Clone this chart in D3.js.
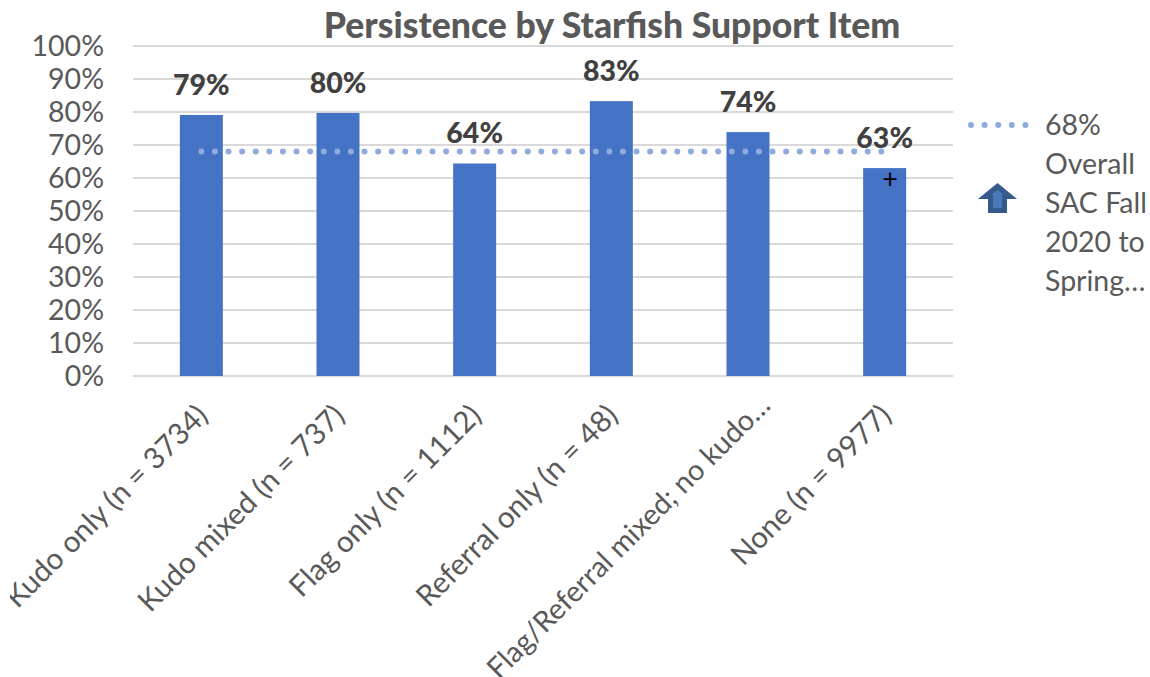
<!DOCTYPE html>
<html><head><meta charset="utf-8">
<script src="https://cdn.jsdelivr.net/npm/d3@7"></script>
<style>html,body{margin:0;padding:0;background:#fff}svg{display:block}text{font-family:Lato,"Open Sans",sans-serif}</style>
</head><body><div id="chart"></div>
<script>
const categories = ["Kudo only (n = 3734)","Kudo mixed (n = 737)","Flag only (n = 1112)","Referral only (n = 48)","Flag/Referral mixed; no kudo…","None (n = 9977)"];
const persistence = [79.1,79.7,64.4,83.3,73.9,63];
const overall = [68,68,68,68,68,68];
const yTicks = [0,10,20,30,40,50,60,70,80,90,100];
const legendLines = ["68%","Overall","SAC Fall","2020 to","Spring…"];
const titleText = "Persistence by Starfish Support Item";

const W=1150,H=677;
const svg=d3.select("#chart").append("svg").attr("width",W).attr("height",H);
svg.append("defs").append("clipPath").attr("id","pageclip").append("rect").attr("x",10).attr("y",0).attr("width",W-10).attr("height",H);
const x=d3.scaleBand().domain(categories).range([133,953]);
const y=d3.scaleLinear().domain([0,100]).range([376,46]);
const barW=43;

// gridlines
svg.append("g").selectAll("line").data(yTicks).join("line")
  .attr("x1",133).attr("x2",953).attr("y1",d=>y(d)).attr("y2",d=>y(d))
  .attr("stroke","#d9d9d9").attr("stroke-width",2);

// y axis
const yAxis=d3.axisLeft(y).tickValues(yTicks).tickFormat(d=>d+"%").tickSize(0).tickPadding(29);
const gy=svg.append("g").attr("transform","translate(133,0)").call(yAxis);
gy.select(".domain").remove();
gy.selectAll("text").attr("font-size",28.5).attr("fill","#595959").style("font-family",'Lato,"Open Sans",sans-serif');

// bars
svg.append("g").selectAll("rect").data(categories).join("rect")
  .attr("x",d=>x(d)+x.bandwidth()/2-barW/2).attr("width",barW)
  .attr("y",(d,i)=>y(persistence[i])).attr("height",(d,i)=>y(0)-y(persistence[i]))
  .attr("fill","#4472c4");

// overall line
const line=d3.line().x((d,i)=>x(categories[i])+x.bandwidth()/2).y(d=>y(d));
svg.append("path").attr("d",line(overall)).attr("fill","none").attr("stroke","#8faadc")
  .attr("stroke-width",6).attr("stroke-linecap","round").attr("stroke-dasharray","0 13.6");

// value labels
svg.append("g").selectAll("text").data(categories).join("text")
  .attr("x",d=>x(d)+x.bandwidth()/2).attr("y",(d,i)=>y(persistence[i])-20)
  .attr("text-anchor","middle").attr("font-size",28.5).attr("font-weight",900).attr("fill","#404040")
  .text((d,i)=>Math.round(persistence[i])+"%");

// x labels
const gx=svg.append("g").attr("clip-path","url(#pageclip)");
gx.selectAll("text").data(categories).join("text")
  .attr("transform",d=>`translate(${x(d)+x.bandwidth()/2+(d.endsWith("…")?17:1)},${d.endsWith("…")?400:410}) rotate(-45)`)
  .attr("text-anchor","end").attr("dy","0.35em").attr("font-size",d=>d.endsWith("…")?28.8:29.6).attr("fill","#595959").text(d=>d);

// title
svg.append("text").attr("x",612).attr("y",38).attr("text-anchor","middle")
  .attr("font-size",35.6).attr("font-weight",900).attr("fill","#595959").text(titleText);

// marker
svg.append("text").attr("x",890).attr("y",188).attr("text-anchor","middle").attr("font-size",27).attr("fill","#000").text("+");

// legend
svg.append("line").attr("x1",971).attr("x2",1029).attr("y1",125).attr("y2",125).attr("stroke","#8faadc")
  .attr("stroke-width",6).attr("stroke-linecap","round").attr("stroke-dasharray","0 13.6");
svg.append("path").attr("d","M978,199 L997.5,183 L1017,199 L1007,199 L1007,213 L988,213 L988,199 Z").attr("fill","#34598c");
svg.append("path").attr("d","M991,195 L997.5,190 L1004,195 L1002,195 L1002,208 L993,208 L993,195 Z").attr("fill","#4a7ab5");
svg.append("g").selectAll("text").data(legendLines).join("text")
  .attr("x",1045).attr("y",(d,i)=>135+i*39).attr("font-size",28.5).attr("fill","#595959").text(d=>d);
</script></body></html>
